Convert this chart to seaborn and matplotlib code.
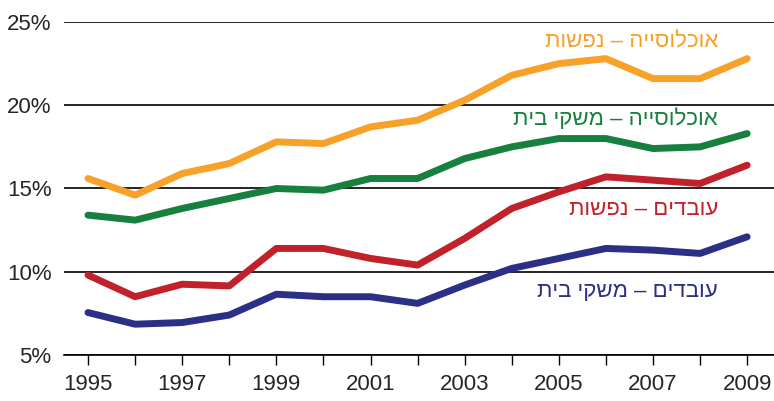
import numpy as np
import pandas as pd
import matplotlib
matplotlib.use("Agg")
import matplotlib.pyplot as plt
import seaborn as sns

# data (percent)
years = list(range(1995, 2010))
pop_persons = [15.6, 14.6, 15.9, 16.5, 17.8, 17.7, 18.7, 19.1, 20.3, 21.8, 22.5, 22.8, 21.6, 21.6, 22.8]
pop_households = [13.4, 13.1, 13.8, 14.4, 15.0, 14.9, 15.6, 15.6, 16.8, 17.5, 18.0, 18.0, 17.4, 17.5, 18.3]
work_persons = [9.8, 8.5, 9.25, 9.15, 11.4, 11.4, 10.8, 10.4, 12.0, 13.8, 14.8, 15.7, 15.5, 15.3, 16.4]
work_households = [7.55, 6.85, 6.95, 7.4, 8.65, 8.5, 8.5, 8.1, 9.2, 10.2, 10.8, 11.4, 11.3, 11.1, 12.1]

labels = ["אוכלוסייה – נפשות", "אוכלוסייה – משקי בית", "עובדים – נפשות", "עובדים – משקי בית"]
colors = ["#F7A128", "#17803F", "#C1212B", "#2B2F86"]
label_y = [23.8, 19.15, 13.75, 8.8]

series = [pop_persons, pop_households, work_persons, work_households]
df = pd.concat([pd.DataFrame({"year": years, "value": v, "series": lab})
                for v, lab in zip(series, labels)])

sns.set_style("white")
plt.rcParams['font.family'] = ['Liberation Sans', 'DejaVu Sans']

fig = plt.figure(figsize=(7.74, 4.01), dpi=100)
ax = fig.add_axes([64 / 774, 1 - 355 / 401, 1 - 64 / 774, (355 - 22) / 401])

sns.lineplot(data=df, x="year", y="value", hue="series", palette=colors,
             linewidth=5, legend=False, ax=ax, zorder=3)

ax.set_xlim(1994.49, 2009.57)
ax.set_ylim(5, 25)
ax.set_yticks([5, 10, 15, 20, 25])
ax.set_yticklabels([f"{t}%" for t in [5, 10, 15, 20, 25]])
ax.set_xticks(years)
ax.set_xticklabels([str(y) if y % 2 == 1 else "" for y in years])
ax.grid(axis="y", color="black", linewidth=1.2)
ax.grid(axis="x", visible=False)
for s in ["left", "right", "top"]:
    ax.spines[s].set_visible(False)
ax.spines["bottom"].set_color("black")
ax.spines["bottom"].set_linewidth(1.2)
ax.tick_params(axis="y", length=0, pad=9, labelsize=16)
ax.tick_params(axis="x", length=7, width=1, color="black", direction="out",
               bottom=True, pad=7, labelsize=16)
ax.set_xlabel("")
ax.set_ylabel("")

# Hebrew labels: reverse for right-to-left display
for lab, c, yy in zip(labels, colors, label_y):
    ax.text(2008.38, yy, lab[::-1], color=c, fontsize=16, ha="right", va="center")

fig.savefig("out.png", dpi=100)
